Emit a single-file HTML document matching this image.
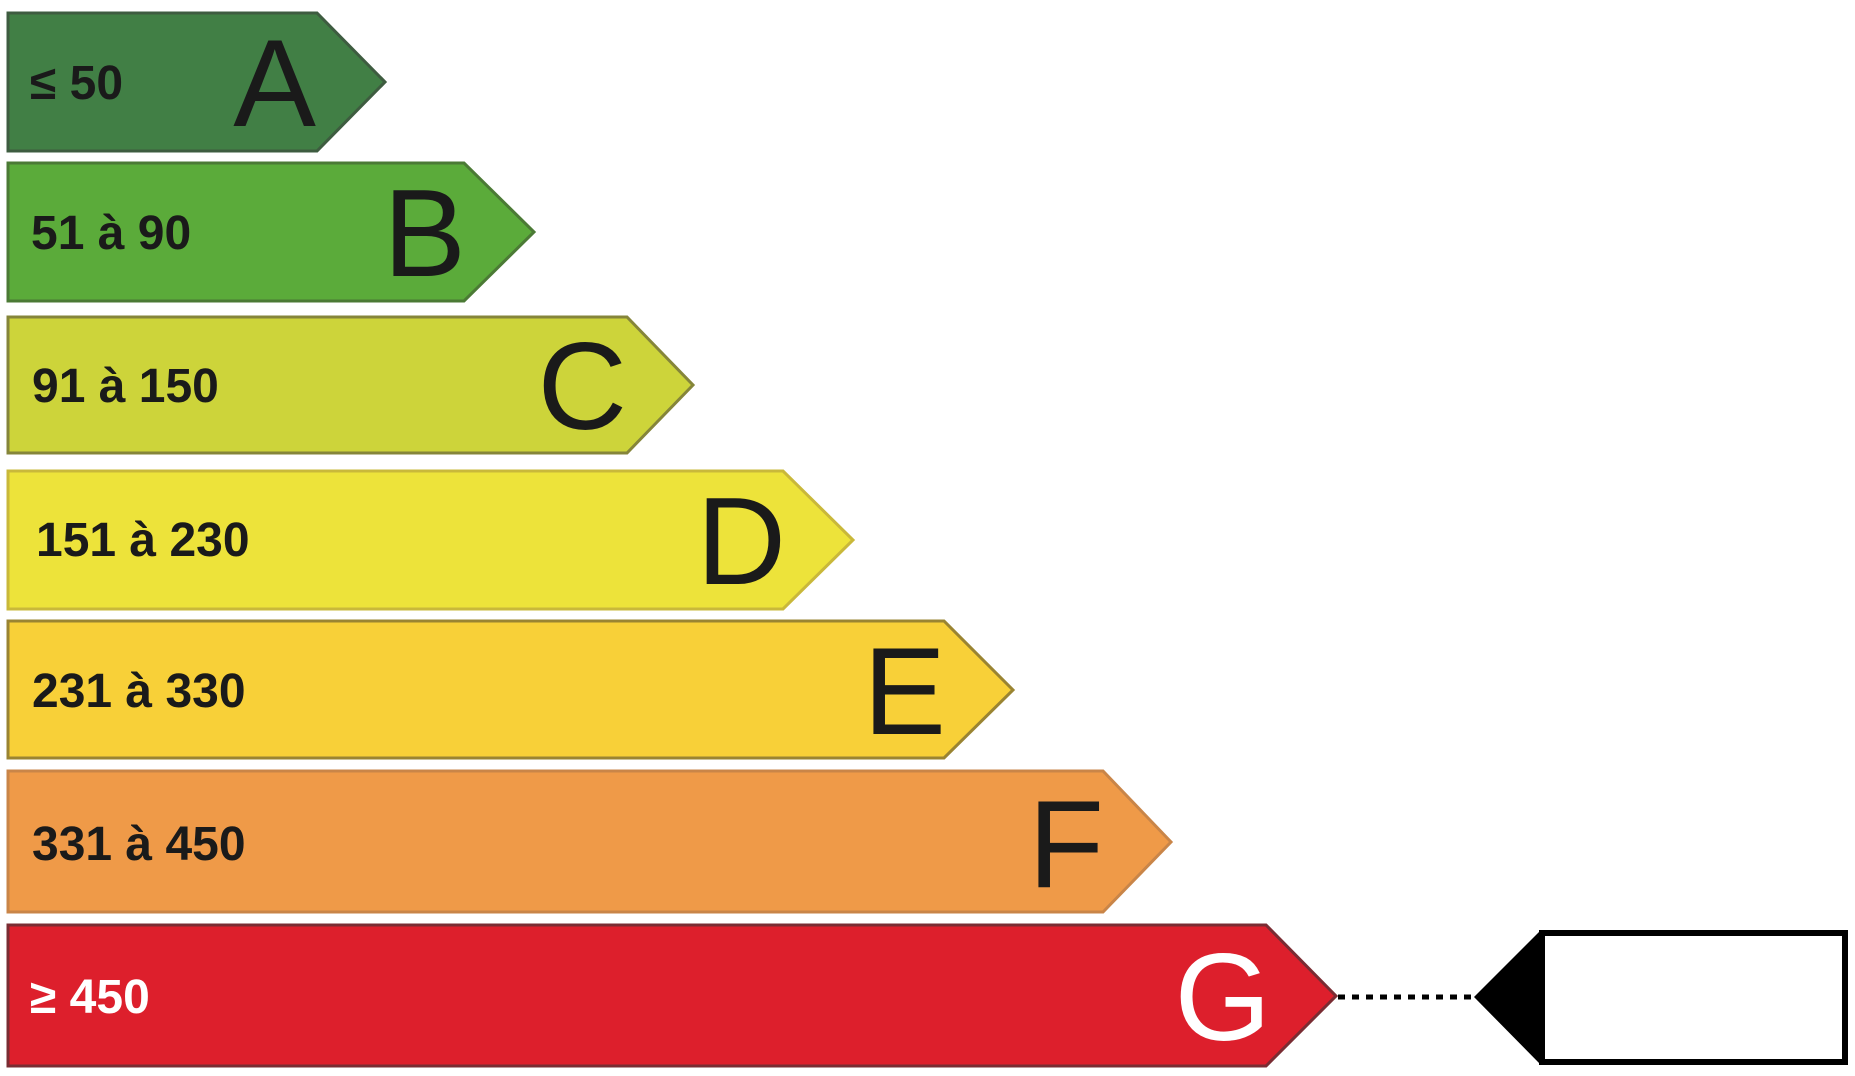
<!DOCTYPE html>
<html><head><meta charset="utf-8"><style>
html,body{margin:0;padding:0;background:#fff;width:1855px;height:1076px;overflow:hidden}
svg{display:block}
.s{font-family:"Liberation Sans Narrow","Liberation Sans",sans-serif;font-weight:bold;font-size:48px}
.b{font-family:"Liberation Sans",sans-serif;font-size:124px}
</style></head><body>
<svg width="1855" height="1076" viewBox="0 0 1855 1076" xmlns="http://www.w3.org/2000/svg">
<g stroke-width="3">
<polygon points="8,13 317,13 385,82 317,151 8,151" fill="#417f45" stroke="#3e5c40"/>
<polygon points="8,163 464,163 534,232 464,301 8,301" fill="#5bab3a" stroke="#4b7a35"/>
<polygon points="8,317 627,317 693,385 627,453 8,453" fill="#cdd43a" stroke="#85853a"/>
<polygon points="8,471 783,471 853,540 783,609 8,609" fill="#ede33a" stroke="#c9b83a"/>
<polygon points="8,621 944,621 1013,690 944,758 8,758" fill="#f8d038" stroke="#9a8432"/>
<polygon points="8,771 1103,771 1171,842 1103,912 8,912" fill="#ef9a48" stroke="#c98548"/>
<polygon points="8,925 1266,925 1336,996 1266,1066 8,1066" fill="#dd1f2c" stroke="#7a2c33"/>
</g>
<g class="s" fill="#1a1a1a">
<text x="30" y="99">≤ 50</text>
<text x="31" y="249">51 à 90</text>
<text x="32" y="402">91 à 150</text>
<text x="36" y="556">151 à 230</text>
<text x="32" y="707">231 à 330</text>
<text x="32" y="860">331 à 450</text>
<text x="30" y="1013" fill="#fff">≥ 450</text>
</g>
<g class="b" fill="#1a1a1a" text-anchor="end">
<text x="316" y="126">A</text>
<text x="466" y="276">B</text>
<text x="627" y="429">C</text>
<text x="786" y="584">D</text>
<text x="946" y="734">E</text>
<text x="1104" y="887">F</text>
<text x="1271" y="1040" fill="#fff">G</text>
</g>
<line x1="1338" y1="997" x2="1476" y2="997" stroke="#000" stroke-width="5" stroke-dasharray="7,7"/>
<polygon points="1474,997 1540,931 1540,1064" fill="#000"/>
<rect x="1542" y="933" width="303" height="129" fill="#fff" stroke="#000" stroke-width="6"/>
</svg>
</body></html>
